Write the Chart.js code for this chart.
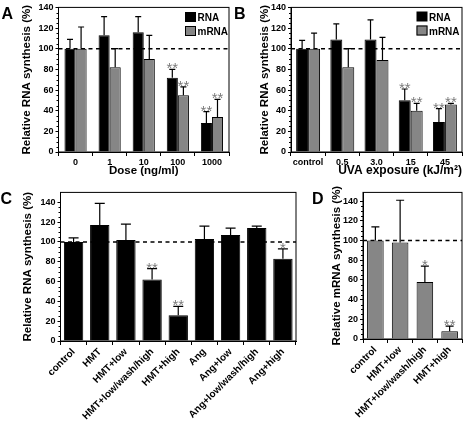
<!DOCTYPE html>
<html>
<head>
<meta charset="utf-8">
<script src="https://cdn.jsdelivr.net/npm/chart.js@4.4.1/dist/chart.umd.min.js"></script>
<style>
  html, body { margin: 0; padding: 0; background: #fff; }
  body { position: relative; width: 464px; height: 424px; overflow: hidden; }
  canvas { position: absolute; }
</style>
</head>
<body>
<canvas id="chartA" width="232" height="180" style="left:0;top:0"></canvas>
<canvas id="chartB" width="232" height="180" style="left:232px;top:0"></canvas>
<canvas id="chartC" width="300" height="239" style="left:0;top:185px"></canvas>
<canvas id="chartD" width="164" height="239" style="left:300px;top:185px"></canvas>
<script>
// Panel A : dose
const doseLabels = ['0', '1', '10', '100', '1000'];
const doseRna = [100, 113, 116, 72, 28];
const doseRnaSd = [9, 18, 15, 8, 11];
const doseRnaSig = ['', '', '', '**', '**'];
const doseMrna = [100, 82, 90, 55, 34];
const doseMrnaSd = [21, 18, 23, 8, 17];
const doseMrnaSig = ['', '', '', '**', '**'];

// Panel B : UVA exposure
const uvaLabels = ['control', '0.5', '3.0', '15', '45'];
const uvaRna = [100, 109, 109, 50, 29];
const uvaRnaSd = [8, 15, 19, 11, 13];
const uvaRnaSig = ['', '', '', '**', '**'];
const uvaMrna = [100, 82, 89, 40, 46];
const uvaMrnaSd = [15, 18, 22, 7, 1];
const uvaMrnaSig = ['', '', '', '**', '**'];

// Panel C : treatments, RNA
const treatLabels = ['control', 'HMT', 'HMT+low', 'HMT+low/wash/high', 'HMT+high',
  'Ang', 'Ang+low', 'Ang+low/wash/high', 'Ang+high'];
const treatRna = [100, 117, 102, 62, 26, 103, 107, 114, 83];
const treatRnaSd = [4, 22, 16, 11, 9, 13, 7, 2, 10];
const treatRnaSig = ['', '', '', '**', '**', '', '', '', '*'];

// Panel D : treatments, mRNA
const mrnaLabels = ['control', 'HMT+low', 'HMT+low/wash/high', 'HMT+high'];
const mrnaVals = [100, 98, 58, 8];
const mrnaSd = [14, 43, 16, 5];
const mrnaSig = ['', '', '*', '**'];

const yTicks = [0, 20, 40, 60, 80, 100, 120, 140];

const FONT = '"Liberation Sans", Arial, sans-serif';
const GRAY = '#868686';
Chart.defaults.font.family = FONT;
Chart.defaults.color = '#000';

// dessins en plus : ligne 100 %, barres d'erreur, étoiles, cadre, lettre, légende
const extras = {
  id: 'extras',
  beforeDatasetsDraw(chart) {
    const { ctx, chartArea: a, scales: { y } } = chart;
    const yy = y.getPixelForValue(100);
    ctx.save();
    ctx.setLineDash([4, 3.5]);
    ctx.lineWidth = 1.5;
    ctx.strokeStyle = '#000';
    ctx.beginPath();
    ctx.moveTo(a.left, yy);
    ctx.lineTo(a.right, yy);
    ctx.stroke();
    ctx.restore();
  },
  afterDatasetsDraw(chart, args, opts) {
    const { ctx, scales: { y } } = chart;
    ctx.save();
    chart.data.datasets.forEach((ds, i) => {
      chart.getDatasetMeta(i).data.forEach((bar, j) => {
        const x = bar.x;
        const yTop = y.getPixelForValue(ds.data[j]);
        const yErr = y.getPixelForValue(ds.data[j] + ds.sd[j]);
        ctx.strokeStyle = '#000';
        ctx.lineWidth = 1.2;
        ctx.beginPath();
        ctx.moveTo(x, yTop);
        ctx.lineTo(x, yErr);
        ctx.moveTo(x - opts.cap / 2, yErr);
        ctx.lineTo(x + opts.cap / 2, yErr);
        ctx.stroke();
        if (ds.sig[j]) {
          ctx.fillStyle = '#7a7a7a';
          ctx.font = '15px ' + FONT;
          ctx.textAlign = 'center';
          ctx.textBaseline = 'alphabetic';
          ctx.fillText(ds.sig[j], x, yErr + 4);
        }
      });
    });
    ctx.restore();
  },
  afterDraw(chart, args, opts) {
    const { ctx, chartArea: a, scales: { y } } = chart;
    ctx.save();
    // cadre
    ctx.strokeStyle = '#000';
    ctx.lineWidth = 1;
    ctx.strokeRect(a.left, a.top, a.right - a.left, a.bottom - a.top);
    // petites graduations
    ctx.beginPath();
    for (let v = 5; v < 140; v += 5) {
      if (v % 20 === 0) continue;
      const p = Math.round(y.getPixelForValue(v)) + 0.5;
      ctx.moveTo(a.left - 2, p);
      ctx.lineTo(a.left, p);
    }
    ctx.stroke();
    // lettre du panneau
    ctx.fillStyle = '#000';
    ctx.font = 'bold 16px ' + FONT;
    ctx.textAlign = 'left';
    ctx.textBaseline = 'alphabetic';
    ctx.fillText(opts.letter[0], opts.letter[1], opts.letter[2]);
    // légende
    if (opts.legend) {
      const [lx, ly] = opts.legend;
      ctx.fillStyle = '#000';
      ctx.fillRect(lx, ly, 11, 10);
      ctx.fillStyle = GRAY;
      ctx.fillRect(lx, ly + 14, 11, 10);
      ctx.strokeRect(lx + 0.5, ly + 14.5, 10, 9);
      ctx.fillStyle = '#000';
      ctx.font = 'bold 10px ' + FONT;
      ctx.fillText('RNA', lx + 12.5, ly + 9);
      ctx.fillText('mRNA', lx + 12.5, ly + 23);
    }
    ctx.restore();
  }
};
Chart.register(extras);

function makePanel(id, p) {
  return new Chart(document.getElementById(id), {
    type: 'bar',
    data: { labels: p.labels, datasets: p.datasets },
    options: {
      responsive: false,
      animation: false,
      layout: { padding: p.padding },
      plugins: {
        legend: { display: false },
        tooltip: { enabled: false },
        extras: { cap: p.cap, letter: p.letter, legend: p.legend }
      },
      datasets: {
        bar: { categoryPercentage: p.catPct, barPercentage: 1, borderWidth: 1, borderColor: '#000' }
      },
      scales: {
        x: {
          offset: true,
          grid: { offset: true, drawOnChartArea: false, tickLength: 4, color: '#000' },
          border: { color: '#000', width: 1 },
          ticks: {
            font: { size: p.xFont, weight: 'bold' }, padding: 1, autoSkip: false,
            minRotation: p.rot, maxRotation: p.rot
          },
          title: {
            display: !!p.xTitle, text: p.xTitle, align: p.xTitleAlign || 'center',
            font: { size: p.xTitleSize || 11.5, weight: 'bold' }, padding: { top: 0, bottom: 2 }
          },
          afterFit: s => { s.height = p.xHeight; }
        },
        y: {
          min: 0, max: p.yMax,
          grid: { drawOnChartArea: false, tickLength: 3, color: '#000' },
          border: { color: '#000', width: 1 },
          ticks: { font: { size: 9, weight: 'bold' }, padding: 2 },
          afterBuildTicks: s => { s.ticks = yTicks.map(v => ({ value: v })); },
          title: {
            display: true, text: p.yTitle,
            font: { size: 11.5, weight: 'bold' }, padding: { top: p.yTitlePad, bottom: 0 }
          },
          afterFit: s => { s.width = p.yWidth; }
        }
      }
    }
  });
}

makePanel('chartA', {
  labels: doseLabels,
  datasets: [
    { data: doseRna, sd: doseRnaSd, sig: doseRnaSig, backgroundColor: '#000' },
    { data: doseMrna, sd: doseMrnaSd, sig: doseMrnaSig, backgroundColor: GRAY }
  ],
  padding: { left: 0, top: 5, right: 3, bottom: 0 },
  catPct: 0.65, cap: 6, xFont: 9, rot: 0, xHeight: 28, yMax: 140,
  xTitle: 'Dose (ng/ml)', yTitle: 'Relative RNA synthesis (%)', yTitlePad: 20, yWidth: 58.5,
  letter: ['A', 1.5, 19], legend: [185, 12]
});

makePanel('chartB', {
  labels: uvaLabels,
  datasets: [
    { data: uvaRna, sd: uvaRnaSd, sig: uvaRnaSig, backgroundColor: '#000' },
    { data: uvaMrna, sd: uvaMrnaSd, sig: uvaMrnaSig, backgroundColor: GRAY }
  ],
  padding: { left: 0, top: 5, right: 2, bottom: 0 },
  catPct: 0.7, cap: 6, xFont: 9, rot: 0, xHeight: 28, yMax: 140,
  xTitle: 'UVA exposure (kJ/m²)', xTitleAlign: 'end', xTitleSize: 12,
  yTitle: 'Relative RNA synthesis (%)', yTitlePad: 26, yWidth: 59,
  letter: ['B', 2, 18.5], legend: [184.5, 11.5]
});

makePanel('chartC', {
  labels: treatLabels,
  datasets: [
    { data: treatRna, sd: treatRnaSd, sig: treatRnaSig, backgroundColor: '#000' }
  ],
  padding: { left: 0, top: 6, right: 4, bottom: 0 },
  catPct: 0.74, cap: 10, xFont: 10, rot: 45, xHeight: 83, yMax: 150,
  xTitle: '', yTitle: 'Relative RNA synthesis (%)', yTitlePad: 21, yWidth: 60.5,
  letter: ['C', 0.5, 19]
});

makePanel('chartD', {
  labels: mrnaLabels,
  datasets: [
    { data: mrnaVals, sd: mrnaSd, sig: mrnaSig, backgroundColor: GRAY }
  ],
  padding: { left: 0, top: 7, right: 2, bottom: 0 },
  catPct: 0.67, cap: 8, xFont: 10, rot: 45, xHeight: 85, yMax: 149,
  xTitle: '', yTitle: 'Relative mRNA synthesis (%)', yTitlePad: 30, yWidth: 63,
  letter: ['D', 12, 19]
});
</script>
</body>
</html>
